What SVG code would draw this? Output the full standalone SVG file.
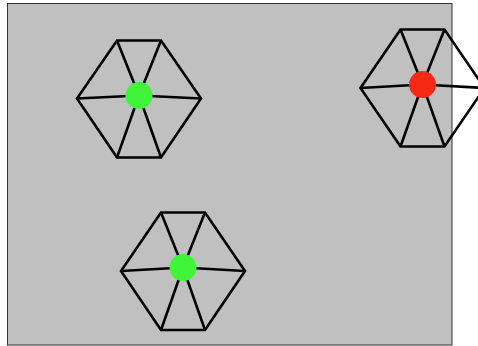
<svg xmlns="http://www.w3.org/2000/svg" width="478" height="346" viewBox="0 0 478 346">
<style>
.hex{fill:none;stroke:#000;stroke-width:2.6;stroke-linejoin:miter}
.spoke{stroke:#000;stroke-width:2.6}
.g{fill:#40f43a}
.r{fill:#f62a14}
</style>
<rect x="0" y="0" width="478" height="346" fill="#fff"/>
<rect x="7.5" y="3.5" width="444.5" height="341.5" fill="#c0c0c0" stroke="#333" stroke-width="1"/>
<g id="node1">
<polygon class="hex" points="77,98.5 117,40.5 161,40.5 201,98.5 161,157.5 117,157.5"/>
<g class="spoke"><line x1="77" y1="98.5" x2="139" y2="95.5"/><line x1="117" y1="40.5" x2="139" y2="95.5"/><line x1="161" y1="40.5" x2="139" y2="95.5"/><line x1="201" y1="98.5" x2="139" y2="95.5"/><line x1="161" y1="157.5" x2="139" y2="95.5"/><line x1="117" y1="157.5" x2="139" y2="95.5"/></g>
<circle class="g" cx="139" cy="95.5" r="13.5"/>
</g>
<g id="node2">
<polygon class="hex" points="360.5,88 400.5,29.5 444.5,29.5 484.5,88 444.5,146.5 400.5,146.5"/>
<g class="spoke"><line x1="360.5" y1="88" x2="422.5" y2="84.5"/><line x1="400.5" y1="29.5" x2="422.5" y2="84.5"/><line x1="444.5" y1="29.5" x2="422.5" y2="84.5"/><line x1="484.5" y1="88" x2="422.5" y2="84.5"/><line x1="444.5" y1="146.5" x2="422.5" y2="84.5"/><line x1="400.5" y1="146.5" x2="422.5" y2="84.5"/></g>
<circle class="r" cx="422.5" cy="84.5" r="13.5"/>
</g>
<g id="node3">
<polygon class="hex" points="121,271 161,212.5 205,212.5 245,271 205,330 161,330"/>
<g class="spoke"><line x1="121" y1="271" x2="183" y2="267.5"/><line x1="161" y1="212.5" x2="183" y2="267.5"/><line x1="205" y1="212.5" x2="183" y2="267.5"/><line x1="245" y1="271" x2="183" y2="267.5"/><line x1="205" y1="330" x2="183" y2="267.5"/><line x1="161" y1="330" x2="183" y2="267.5"/></g>
<circle class="g" cx="183" cy="267.5" r="13.5"/>
</g>
<g id="connectors"></g>
</svg>
